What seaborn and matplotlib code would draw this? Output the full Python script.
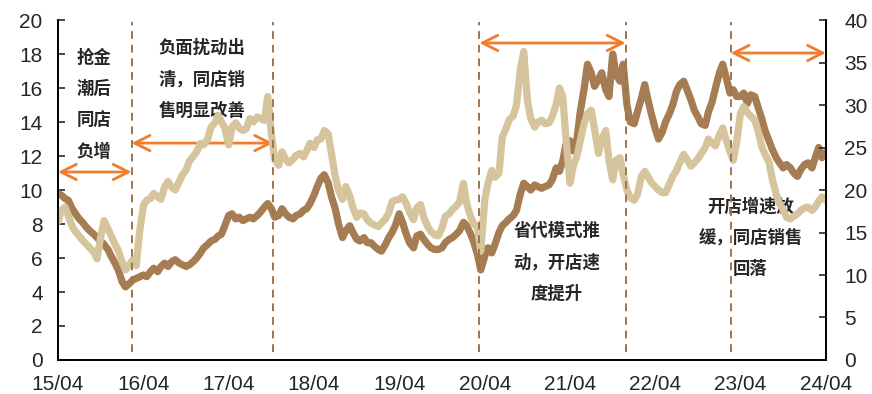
import pandas as pd
import matplotlib
matplotlib.use('Agg')
import matplotlib.pyplot as plt
import matplotlib.dates as mdates
import seaborn as sns

# semi-monthly samples, Apr 2015 .. Apr 2024
dates = pd.date_range('2015-04-01', '2024-04-01', freq='SMS')

# dark line, left axis (0-20)
dark_vals = [
    9.8, 9.7, 9.5, 9.4, 8.9, 8.6, 8.3, 8.1, 7.8, 7.6, 7.4, 7.2, 7.0, 6.8, 6.5, 6.1, 5.7, 5.3, 4.6, 4.3, 4.5, 4.7, 4.8, 4.9,
    5.0, 4.9, 5.2, 5.4, 5.2, 5.5, 5.7, 5.5, 5.8, 5.9, 5.7, 5.6, 5.5, 5.6, 5.8, 6.0, 6.3, 6.6, 6.8, 7.0, 7.1, 7.3, 7.4, 7.9,
    8.5, 8.6, 8.3, 8.4, 8.2, 8.3, 8.4, 8.3, 8.5, 8.7, 9.0, 9.2, 8.9, 8.4, 8.5, 8.9, 8.6, 8.4, 8.3, 8.5, 8.6, 8.8, 8.9, 9.2,
    9.7, 10.2, 10.7, 10.9, 10.4, 9.6, 8.9, 8.0, 7.2, 7.6, 7.9, 7.5, 7.1, 7.0, 7.2, 6.9, 6.9, 6.7, 6.5, 6.4, 6.8, 7.2, 7.5, 7.9,
    8.6, 8.1, 7.4, 6.9, 6.6, 7.3, 7.4, 7.1, 6.8, 6.6, 6.5, 6.5, 6.6, 6.9, 7.1, 7.2, 7.4, 7.6, 8.1, 7.9, 7.4, 6.9, 6.2, 5.3,
    6.1, 6.6, 6.3, 6.8, 7.5, 7.9, 8.1, 8.3, 8.5, 8.8, 9.8, 10.4, 10.2, 10.0, 10.3, 10.2, 10.1, 10.2, 10.3, 10.6, 11.3, 11.1, 11.7, 12.7,
    12.9, 12.3, 13.0, 14.6, 16.0, 17.4, 16.9, 16.1, 16.5, 16.9, 15.9, 15.5, 18.0, 16.8, 16.4, 17.4, 15.0, 14.0, 13.9, 14.6, 15.4, 16.2, 15.3, 14.5,
    13.6, 13.0, 13.4, 14.0, 14.5, 15.0, 15.8, 16.2, 16.4, 15.9, 15.3, 14.7, 14.3, 13.9, 13.8, 14.6, 15.2, 16.0, 16.9, 17.4, 16.5, 15.7, 15.9, 15.5,
    15.5, 15.7, 15.1, 15.6, 15.5, 14.9, 14.2, 13.5, 12.9, 12.4, 11.9, 11.6, 11.3, 11.5, 11.3, 11.0, 10.8, 11.2, 11.5, 11.6, 11.3, 11.9, 12.5, 11.9, 12.2,
]

# light line, right axis (0-40)
light_vals = [
    16.3, 17.6, 18.0, 17.0, 15.7, 15.1, 14.6, 14.1, 13.6, 13.2, 12.7, 11.9, 14.5, 16.4, 15.4, 14.6, 13.6, 12.9, 11.5, 10.6, 11.2, 11.8, 11.1, 15.0,
    18.2, 18.8, 19.0, 19.6, 19.2, 18.9, 20.4, 21.0, 20.3, 20.0, 21.0, 21.8, 22.4, 23.4, 24.0, 24.5, 25.5, 25.3, 26.0, 27.4, 27.9, 28.8, 28.0, 27.3,
    25.3, 27.4, 27.9, 27.3, 27.0, 27.2, 28.4, 28.0, 28.6, 28.4, 28.2, 31.0, 26.5, 23.6, 22.9, 24.5, 23.6, 23.2, 23.6, 24.1, 24.3, 23.9, 24.6, 25.5,
    25.0, 25.9, 26.0, 27.0, 26.6, 24.3, 21.6, 20.0, 18.9, 20.4, 19.3, 17.9, 16.8, 17.3, 17.2, 16.5, 16.1, 15.9, 15.7, 16.1, 16.6, 17.3, 18.6, 18.8,
    18.9, 19.2, 18.4, 17.4, 16.5, 17.9, 18.3, 16.8, 15.7, 15.1, 14.7, 14.6, 15.5, 16.9, 17.2, 17.7, 18.1, 18.6, 20.8, 18.4, 16.8, 16.0, 15.6, 12.8,
    18.8, 20.8, 22.3, 21.5, 22.0, 26.2, 27.2, 28.3, 28.7, 30.0, 34.3, 36.3, 30.5, 28.4, 27.4, 28.0, 28.2, 27.8, 27.9, 28.6, 30.1, 32.0, 31.0, 26.0,
    20.8, 22.8, 24.0, 25.8, 27.9, 29.0, 29.4, 27.2, 24.3, 26.0, 27.0, 23.5, 21.2, 23.5, 23.8, 21.8, 20.0, 19.1, 18.8, 19.5, 21.6, 22.2, 21.6, 20.9,
    20.4, 20.0, 19.7, 19.7, 20.7, 21.6, 22.3, 23.2, 24.2, 23.6, 22.8, 23.2, 23.7, 24.3, 25.0, 26.0, 25.5, 25.2, 26.5, 27.3, 25.7, 24.5, 23.5, 25.5,
    29.0, 29.8, 29.1, 28.7, 28.2, 27.0, 25.1, 24.2, 23.3, 21.3, 19.5, 18.4, 17.7, 16.8, 16.6, 16.9, 17.2, 17.6, 17.9, 18.0, 17.6, 18.0, 18.7, 19.2, 18.8,
]

phase_dates = ['2016-02-10', '2017-10-08', '2020-03-09', '2021-11-25', '2023-02-18']
phase_texts = ['抢金\n潮后\n同店\n负增', '负面扰动出\n清，同店销\n售明显改善',
               '省代模式推\n动，开店速\n度提升', '开店增速放\n缓，同店销售\n回落']
year_ticks = pd.date_range('2015-04-01', '2024-04-01', freq='12MS')

DARK = '#A67C52'
LIGHT = '#D6C49C'
ORANGE = '#F07C2C'

sns.set_style('white')
plt.rcParams['font.family'] = ['Liberation Sans', 'DejaVu Sans']
cjk = ['Noto Sans CJK SC', 'DejaVu Sans']

fig = plt.figure(figsize=(8.72, 3.94), dpi=100)
ax = fig.add_axes([0.0665, 0.0863, 0.8807, 0.8629])
ax2 = ax.twinx()

df = pd.DataFrame({'date': dates, 'dark': dark_vals, 'light': light_vals})
sns.lineplot(data=df, x='date', y='dark', ax=ax, color=DARK, linewidth=5.2)
sns.lineplot(data=df, x='date', y='light', ax=ax2, color=LIGHT, linewidth=5.2)

ax.set_xlim(year_ticks[0], year_ticks[-1])
ax.set_ylim(0, 20)
ax2.set_ylim(0, 40)
ax.set_yticks(range(0, 21, 2))
ax2.set_yticks(range(0, 41, 5))
ax.set_xticks(year_ticks)
ax.xaxis.set_major_formatter(mdates.DateFormatter('%y/%m'))
ax.set_xlabel('')
ax.set_ylabel('')
ax2.set_ylabel('')

for a in (ax, ax2):
    for s in a.spines.values():
        s.set_color('black')
        s.set_linewidth(1.3)
    a.spines['top'].set_visible(False)
ax.tick_params(axis='y', direction='in', length=5, width=1.2, labelsize=15, pad=11)
ax.tick_params(axis='x', direction='in', length=5, width=1.2, labelsize=15, pad=11)
ax2.tick_params(axis='y', direction='in', length=5, width=1.2, labelsize=15, pad=13)

for d in phase_dates:
    ax2.axvline(pd.Timestamp(d), ymin=0.024, ymax=0.994, color='#A0744A',
                linestyle=(0, (4, 3)), linewidth=1.4)

# arrows spanning each phase
spans = [(year_ticks[0], phase_dates[0], 11.06), (phase_dates[0], phase_dates[1], 12.76),
         (phase_dates[2], phase_dates[3], 18.65), (phase_dates[4], year_ticks[-1], 18.06)]
for x0, x1, y in spans:
    ax.annotate('', xy=(mdates.date2num(pd.Timestamp(x1)), y),
                xytext=(mdates.date2num(pd.Timestamp(x0)), y),
                arrowprops=dict(arrowstyle='<->,head_length=1.1,head_width=0.55',
                                color=ORANGE, lw=2, shrinkA=0, shrinkB=0))

text_pos = [('2015-09-02', 15.0), ('2016-12-08', 16.5), ('2021-02-04', 5.76), ('2023-05-14', 7.18)]
for (d, y), t in zip(text_pos, phase_texts):
    ax.text(mdates.date2num(pd.Timestamp(d)), y, t, ha='center', va='center',
            fontsize=12.5, fontweight='bold', family=cjk, linespacing=1.95)

fig.savefig('out.png', dpi=100)
